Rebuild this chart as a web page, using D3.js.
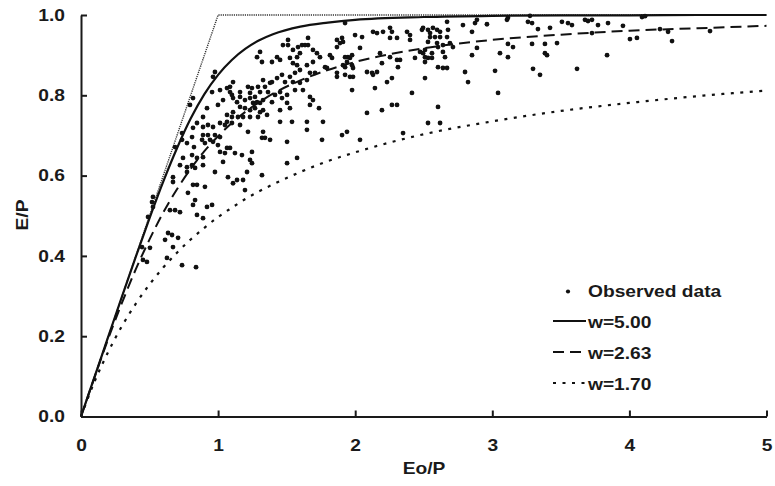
<!DOCTYPE html>
<html>
<head>
<meta charset="utf-8">
<script src="https://cdn.jsdelivr.net/npm/d3@7"></script>
<style>
  body { margin: 0; background: #fff; }
  text { font-family: "Liberation Sans", Arial, sans-serif; font-weight: bold; font-size: 16px; fill: #1a1a1a; }
</style>
</head>
<body>
<svg id="chart" width="775" height="486"></svg>
<script>
// Eo/P values where the three curves were read
const phiGrid = [0, 0.1, 0.2, 0.3, 0.4, 0.5, 0.6, 0.7, 0.8, 0.9, 1.0, 1.1, 1.2, 1.3, 1.4, 1.6, 1.8, 2.0, 2.5, 3.0, 3.5, 4.0, 4.5, 5.0]
const curveW500 = [0, 0.100, 0.200, 0.300, 0.398, 0.494, 0.585, 0.668, 0.742, 0.803, 0.851, 0.888, 0.916, 0.937, 0.952, 0.971, 0.981, 0.988, 0.995, 0.998, 0.999, 0.999, 1.000, 1.000]
const curveW263 = [0, 0.099, 0.195, 0.284, 0.367, 0.441, 0.508, 0.566, 0.617, 0.661, 0.698, 0.731, 0.759, 0.783, 0.804, 0.837, 0.863, 0.883, 0.917, 0.938, 0.951, 0.961, 0.967, 0.973]
const curveW170 = [0, 0.088, 0.162, 0.226, 0.281, 0.329, 0.371, 0.408, 0.441, 0.470, 0.497, 0.520, 0.542, 0.561, 0.578, 0.609, 0.636, 0.658, 0.703, 0.735, 0.761, 0.781, 0.798, 0.812]

// energy / water limit
const limitLine = [[0, 0], [1, 1], [5, 1]]

const xTicks = [0, 1, 2, 3, 4, 5]
const yTicks = [0, 0.2, 0.4, 0.6, 0.8, 1.0]

const legendLabels = ["Observed data", "w=5.00", "w=2.63", "w=1.70"]

// observed catchments [Eo/P, E/P]
const observed = [
  [0.817,0.793],[0.795,0.776],[0.737,0.706],[0.737,0.689],[0.686,0.671],[0.846,0.731],[0.817,0.719],[0.810,0.696],[0.773,0.681],[0.824,0.671],
  [0.722,0.626],[0.773,0.621],[0.810,0.626],[0.832,0.619],[0.773,0.609],[0.744,0.644],[0.810,0.651],[0.846,0.644],[0.671,0.596],[0.671,0.584],
  [0.832,0.539],[0.817,0.527],[0.686,0.514],[0.722,0.509],[0.518,0.534],[0.525,0.522],[0.489,0.497],[0.635,0.457],[0.664,0.452],[0.613,0.440],
  [0.708,0.445],[0.671,0.422],[0.445,0.422],[0.503,0.420],[0.452,0.390],[0.481,0.385],[0.627,0.395],[0.737,0.377],[0.839,0.372],[0.780,0.557],
  [0.817,0.577],[0.846,0.577],[0.846,0.502],[0.525,0.547],[0.649,0.514],
  [0.977,0.858],[0.963,0.846],[0.956,0.808],[1.306,0.908],[1.284,0.895],[1.320,0.883],[1.393,0.883],[1.430,0.895],[1.452,0.888],[1.473,0.925],
  [1.510,0.925],[1.510,0.938],[1.546,0.913],[1.583,0.920],[1.612,0.925],[1.634,0.925],[1.656,0.925],[1.656,0.943],[1.692,0.913],[1.721,0.905],
  [1.597,0.905],[1.576,0.895],[1.524,0.893],[1.546,0.880],[1.576,0.875],[1.597,0.863],[1.648,0.875],[1.692,0.883],[1.670,0.856],[1.707,0.856],
  [1.524,0.846],[1.561,0.856],[1.466,0.851],[1.430,0.843],[1.393,0.833],[1.328,0.838],[1.488,0.833],[1.546,0.833],[1.597,0.831],[1.648,0.838],
  [1.619,0.813],[1.561,0.813],[1.670,0.796],[1.692,0.788],[1.109,0.833],[1.087,0.821],[1.065,0.818],[1.087,0.808],[1.101,0.801],[1.014,0.813],
  [1.160,0.808],[1.218,0.821],[1.247,0.818],[1.291,0.821],[1.342,0.821],[1.379,0.831],[1.306,0.808],[1.269,0.796],[1.233,0.806],[1.364,0.808],
  [1.415,0.801],[1.452,0.808],[1.503,0.801],[1.466,0.793],[1.503,0.781],[1.524,0.768],[1.452,0.763],[1.393,0.783],[1.328,0.788],[1.306,0.781],
  [1.284,0.783],[1.255,0.781],[1.233,0.793],[1.196,0.788],[1.160,0.796],[1.138,0.783],[1.109,0.793],[1.036,0.788],[0.999,0.776],[1.160,0.771],
  [1.196,0.768],[1.233,0.763],[1.269,0.768],[1.306,0.758],[1.328,0.763],[1.109,0.758],[1.065,0.751],[1.101,0.746],[1.145,0.746],[1.182,0.746],
  [1.233,0.746],[1.291,0.746],[1.357,0.751],[0.919,0.768],[0.890,0.746],[1.670,0.776],
  [0.890,0.721],[0.926,0.726],[0.963,0.721],[1.014,0.731],[1.050,0.726],[1.065,0.734],[1.101,0.731],[1.160,0.726],[1.218,0.709],[1.320,0.694],
  [1.342,0.694],[1.379,0.689],[1.328,0.709],[1.452,0.734],[1.539,0.734],[1.648,0.734],[1.648,0.714],[1.503,0.684],[0.890,0.701],[0.883,0.689],
  [0.904,0.681],[0.926,0.701],[0.977,0.701],[0.941,0.689],[0.963,0.684],[1.014,0.696],[0.999,0.676],[1.065,0.669],[1.087,0.669],[1.014,0.659],
  [1.050,0.656],[1.123,0.656],[1.174,0.651],[1.247,0.659],[1.233,0.639],[1.247,0.631],[0.890,0.646],[0.890,0.626],[1.036,0.634],[0.977,0.609],
  [1.211,0.609],[1.320,0.601],[1.072,0.596],[1.138,0.589],[1.182,0.589],[1.109,0.581],[0.904,0.572],[1.196,0.564],[0.956,0.527],[0.919,0.522],
  [0.890,0.494],[1.503,0.631],[1.576,0.644],
  [1.926,0.980],[1.999,0.950],[2.050,0.945],[2.130,0.958],[2.159,0.955],[2.203,0.958],[2.254,0.968],[2.268,0.958],[2.378,0.958],[2.400,0.950],
  [2.254,0.943],[2.305,0.943],[2.400,0.938],[2.487,0.963],[2.495,0.968],[2.531,0.963],[2.567,0.968],[2.597,0.963],[2.619,0.958],[2.670,0.983],
  [2.677,0.963],[2.546,0.955],[2.546,0.945],[2.582,0.945],[2.619,0.945],[2.670,0.945],[2.531,0.933],[2.597,0.930],[2.604,0.920],[2.640,0.925],
  [2.691,0.930],[2.713,0.920],[1.867,0.938],[1.904,0.943],[1.911,0.933],[1.889,0.930],[1.867,0.920],[2.035,0.918],[1.743,0.895],[1.816,0.900],
  [1.831,0.893],[1.926,0.895],[1.947,0.895],[1.962,0.893],[1.977,0.900],[1.940,0.883],[1.911,0.875],[1.977,0.875],[1.984,0.868],[1.926,0.870],
  [2.181,0.905],[2.195,0.880],[2.254,0.895],[2.305,0.888],[2.327,0.888],[2.436,0.893],[2.473,0.908],[2.495,0.905],[2.509,0.895],[2.531,0.893],
  [2.560,0.893],[2.509,0.883],[2.640,0.908],[2.655,0.895],[2.604,0.870],[2.640,0.868],[2.670,0.868],[2.312,0.870],[2.509,0.913],[2.560,0.905],
  [1.780,0.870],[1.794,0.868],[1.867,0.856],[1.867,0.846],[1.926,0.851],[1.962,0.846],[1.984,0.846],[2.086,0.858],[2.123,0.856],[2.130,0.851],
  [2.159,0.858],[2.268,0.843],[2.232,0.833],[2.144,0.818],[2.509,0.843],[1.977,0.813],[2.414,0.806],[1.765,0.734],[2.086,0.756],[2.195,0.763],
  [2.268,0.776],[2.305,0.776],[2.604,0.771],[2.531,0.731],[2.619,0.731],[1.904,0.701],[1.940,0.709],[2.035,0.689],[1.758,0.689],[2.349,0.706],
  [1.736,0.768],
  [2.786,0.975],[2.874,0.980],[2.888,0.988],[2.961,0.977],[2.852,0.958],[3.107,0.988],[3.114,0.993],[3.275,0.998],[3.260,0.983],[3.290,0.980],
  [3.333,0.965],[3.421,0.968],[3.508,0.983],[3.552,0.980],[3.581,0.975],[3.676,0.988],[3.698,0.985],[3.727,0.988],[3.771,0.975],[3.844,0.980],
  [3.953,0.973],[4.092,0.995],[4.114,0.997],[4.004,0.940],[4.055,0.943],[4.223,0.965],[4.282,0.958],[4.311,0.935],[4.588,0.960],[2.888,0.918],
  [2.852,0.900],[3.056,0.905],[3.114,0.928],[3.151,0.920],[3.114,0.895],[3.290,0.928],[3.384,0.928],[3.384,0.905],[3.399,0.900],[3.472,0.930],
  [3.727,0.955],[3.837,0.900],[2.801,0.858],[2.823,0.833],[3.020,0.861],[3.042,0.806],[3.297,0.866],[3.348,0.851],[3.618,0.866]
]

const svg = d3.select("#chart")
const x = d3.scaleLinear().domain([0, 5]).range([81, 766.5])
const y = d3.scaleLinear().domain([0, 1]).range([416.5, 15])

// the text of the original figure is stretched sideways a bit
function stretch(sel, extra) {
  sel.each(function () {
    const t = d3.select(this)
    const tx = +t.attr("x") || 0
    const ty = +t.attr("y") || 0
    t.attr("x", 0).attr("y", 0)
      .attr("transform", `translate(${tx},${ty}) ${extra || ""} scale(1.2,1)`)
  })
}

// limit line
svg.append("path")
  .datum(limitLine)
  .attr("fill", "none")
  .attr("stroke", "#333")
  .attr("stroke-width", 1.4)
  .attr("stroke-dasharray", "1.2,1")
  .attr("d", d3.line().x(d => x(d[0])).y(d => y(d[1])))

// Fu curves
const curves = [
  { vals: curveW500, dash: null, width: 2.2 },
  { vals: curveW263, dash: "11,6", width: 2 },
  { vals: curveW170, dash: "3,6.5", width: 2.2 }
]
const curveLine = d3.line()
  .x((d, i) => x(phiGrid[i]))
  .y(d => y(d))
  .curve(d3.curveMonotoneX)

curves.forEach(c => {
  svg.append("path")
    .datum(c.vals)
    .attr("fill", "none")
    .attr("stroke", "#111")
    .attr("stroke-width", c.width)
    .attr("stroke-dasharray", c.dash)
    .attr("d", curveLine)
})

// observed points
svg.append("g")
  .selectAll("circle")
  .data(observed)
  .join("circle")
  .attr("cx", d => x(d[0]))
  .attr("cy", d => y(d[1]))
  .attr("r", 2.4)
  .attr("fill", "#111")

// axes
const xAxis = d3.axisBottom(x).tickValues(xTicks).tickFormat(d3.format("d"))
  .tickSizeInner(-6).tickSizeOuter(0).tickPadding(23)
const yAxis = d3.axisLeft(y).tickValues(yTicks).tickFormat(d3.format(".1f"))
  .tickSizeInner(-6).tickSizeOuter(0).tickPadding(16)

const gx = svg.append("g").attr("transform", `translate(0,${y(0)})`).call(xAxis)
const gy = svg.append("g").attr("transform", `translate(${x(0)},0)`).call(yAxis)

;[gx, gy].forEach(g => {
  g.select(".domain").attr("stroke", "#1a1a1a").attr("stroke-width", 2)
  g.selectAll(".tick line").attr("stroke", "#1a1a1a").attr("stroke-width", 2)
  stretch(g.selectAll(".tick text"))
})

// axis titles
const xTitle = svg.append("text")
  .attr("x", 424).attr("y", 474)
  .attr("text-anchor", "middle")
  .text("Eo/P")
stretch(xTitle)

const yTitle = svg.append("text")
  .attr("x", 28).attr("y", 215)
  .attr("text-anchor", "middle")
  .text("E/P")
stretch(yTitle, "rotate(-90)")

// legend
const legend = svg.append("g")
const rowY = [297, 328, 359, 390]

legend.append("circle")
  .attr("cx", 568).attr("cy", rowY[0] - 5.5)
  .attr("r", 2.1).attr("fill", "#111")

curves.forEach((c, i) => {
  legend.append("line")
    .attr("x1", 553).attr("x2", 586)
    .attr("y1", rowY[i + 1] - 7).attr("y2", rowY[i + 1] - 7)
    .attr("stroke", "#111")
    .attr("stroke-width", c.width)
    .attr("stroke-dasharray", c.dash)
})

legendLabels.forEach((lab, i) => {
  const t = legend.append("text")
    .attr("x", 588).attr("y", rowY[i])
    .text(lab)
  stretch(t)
})
</script>
</body>
</html>
